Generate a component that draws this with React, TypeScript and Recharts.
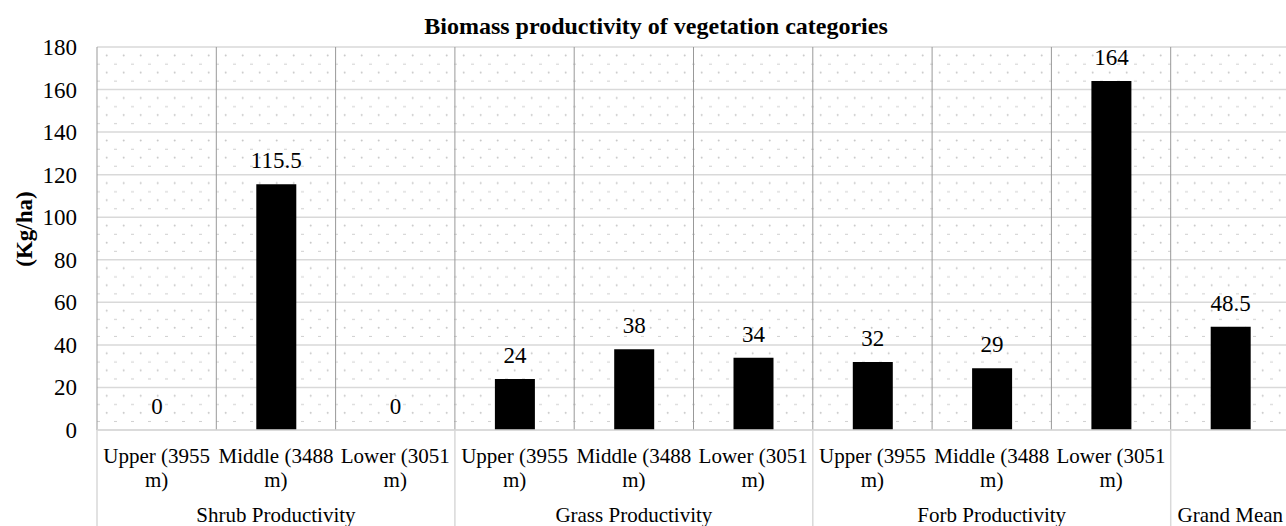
import React from 'react'
import { BarChart, Bar, XAxis, YAxis, CartesianGrid, LabelList } from 'recharts'

// categories, groups and values
const categories = [
  'Upper (3955 m)', 'Middle (3488 m)', 'Lower (3051 m)',
  'Upper (3955 m)', 'Middle (3488 m)', 'Lower (3051 m)',
  'Upper (3955 m)', 'Middle (3488 m)', 'Lower (3051 m)',
  '',
]
const groups = ['Shrub Productivity', 'Grass Productivity', 'Forb Productivity', 'Grand Mean']
const groupSizes = [3, 3, 3, 1]
const values = [0, 115.5, 0, 24, 38, 34, 32, 29, 164, 48.5]
const yTicks = [0, 20, 40, 60, 80, 100, 120, 140, 160, 180]

const FONT = '"Liberation Serif", "Times New Roman", Times, serif'
const textStyle = { fontFamily: FONT }

// index of first / middle category in each group
const groupStarts: number[] = []
const groupMids: Record<number, string> = {}
{
  let s = 0
  groupSizes.forEach((n, g) => {
    groupStarts.push(s)
    groupMids[s + Math.floor(n / 2)] = groups[g]
    s += n
  })
}

const data = values.map((v, i) => ({ idx: i, value: v }))

function CategoryTick({ x, y, payload }: any) {
  const i = payload.value as number
  const label = categories[i] ?? ''
  const cut = label.lastIndexOf(' ')
  const l1 = cut > 0 ? label.slice(0, cut) : label
  const l2 = cut > 0 ? label.slice(cut + 1) : ''
  const half = payload.offset ?? 59.65
  return (
    <g>
      {groupStarts.includes(i) && (
        <line x1={x - half} x2={x - half} y1={y} y2={y + 100} stroke="#d9d9d9" strokeWidth={1.5} />
      )}
      <text x={x} y={y + 33} textAnchor="middle" fontSize={21} fill="#000" style={textStyle}>{l1}</text>
      <text x={x} y={y + 57} textAnchor="middle" fontSize={21} fill="#000" style={textStyle}>{l2}</text>
    </g>
  )
}

function GroupTick({ x, y, payload }: any) {
  const name = groupMids[payload.value as number]
  if (!name) return null
  return (
    <text x={x} y={y + 32} textAnchor="middle" fontSize={21} fill="#000" style={textStyle}>{name}</text>
  )
}

function ValueTick({ x, y, payload }: any) {
  return (
    <text x={x} y={y + 8} textAnchor="end" fontSize={23} fill="#000" style={textStyle}>{payload.value}</text>
  )
}

function ValueLabel({ x, y, width, value }: any) {
  return (
    <text x={x + width / 2} y={y - 16} textAnchor="middle" fontSize={23} fill="#000" style={textStyle}>{value}</text>
  )
}

export default function App() {
  return (
    <div style={{
      position: 'absolute', left: 0, top: 0, width: 1286, height: 526, overflow: 'hidden',
      background: '#fff', fontFamily: FONT,
    }}>
      <svg width={0} height={0} style={{ position: 'absolute' }}>
        <defs>
          <pattern id="dots" patternUnits="userSpaceOnUse" x={97} y={47} width={17} height={42.55}>
            <circle cx={9.7} cy={8.5} r={1} fill="#c8c8c8" />
            <circle cx={9.7} cy={25.5} r={1} fill="#c8c8c8" />
            <rect x={0} y={16.6} width={3} height={1} fill="#cfcfcf" />
            <rect x={0} y={33.6} width={3} height={1} fill="#cfcfcf" />
          </pattern>
        </defs>
      </svg>
      <div style={{
        position: 'absolute', left: 0, width: 1312, top: 12, textAlign: 'center',
        fontWeight: 'bold', fontSize: 24, lineHeight: '28px', color: '#000', zIndex: 2,
      }}>
        Biomass productivity of vegetation categories
      </div>
      <div style={{
        position: 'absolute', left: 25, top: 229, transform: 'translate(-50%, -50%) rotate(-90deg)',
        fontWeight: 'bold', fontSize: 23, lineHeight: '26px', whiteSpace: 'nowrap', color: '#000', zIndex: 2,
      }}>
        (Kg/ha)
      </div>
      <BarChart width={1290} height={526} data={data} margin={{ top: 47, right: 0, bottom: 0, left: 0 }}>
        <CartesianGrid vertical={false} stroke="#d9d9d9" strokeWidth={1.5} fill="url(#dots)" fillOpacity={1} />
        <CartesianGrid
          horizontal={false}
          stroke="#999999"
          verticalCoordinatesGenerator={({ offset }: any) =>
            values.map((_, i) => offset.left + (i * offset.width) / values.length)
          }
        />
        <YAxis
          width={97}
          domain={[0, 180]}
          ticks={yTicks}
          interval={0}
          axisLine={false}
          tickLine={false}
          tickSize={0}
          tickMargin={20}
          tick={<ValueTick />}
        />
        <XAxis
          dataKey="idx"
          height={60}
          interval={0}
          tickLine={false}
          tickSize={0}
          tickMargin={0}
          axisLine={{ stroke: '#d9d9d9', strokeWidth: 1.5 }}
          tick={<CategoryTick />}
        />
        <XAxis
          xAxisId="grp"
          dataKey="idx"
          height={36}
          interval={0}
          tickLine={false}
          tickSize={0}
          tickMargin={0}
          axisLine={false}
          tick={<GroupTick />}
        />
        <Bar dataKey="value" fill="#000" barSize={40} minPointSize={0.01} isAnimationActive={false}>
          <LabelList dataKey="value" content={<ValueLabel />} />
        </Bar>
      </BarChart>
    </div>
  )
}
